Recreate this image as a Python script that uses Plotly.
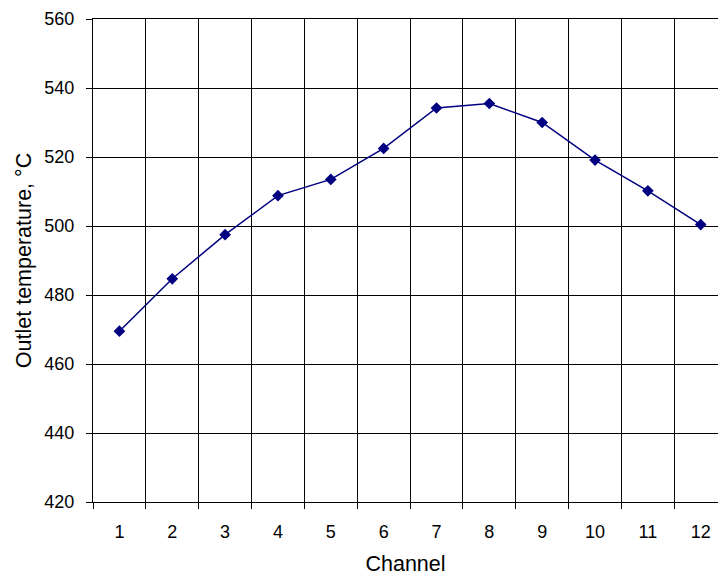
import plotly.graph_objects as go

# Outlet temperature per channel
channels = [1, 2, 3, 4, 5, 6, 7, 8, 9, 10, 11, 12]
outlet_temp = [469.5, 484.7, 497.5, 508.8, 513.5, 522.5, 534.2, 535.5, 530.0, 519.1, 510.2, 500.4]
y_ticks = [420, 440, 460, 480, 500, 520, 540, 560]
x_labels = [str(c) for c in channels]
boundaries = [c - 0.5 for c in channels] + [channels[-1] + 0.5]

FONT = "Liberation Sans, Arial, sans-serif"

fig = go.Figure()
fig.add_trace(go.Scatter(
    x=channels,
    y=outlet_temp,
    mode="lines+markers",
    line=dict(color="#000080", width=1.5),
    marker=dict(symbol="diamond", size=9, color="#000080"),
    showlegend=False,
    cliponaxis=False,
))

fig.update_layout(
    width=718,
    height=579,
    margin=dict(l=93, r=0, t=19, b=77),
    paper_bgcolor="white",
    plot_bgcolor="white",
    font=dict(family=FONT, size=18, color="black"),
    xaxis=dict(
        range=[0.5, 12.327],
        tickmode="array",
        tickvals=channels,
        ticktext=x_labels,
        ticks="",
        showgrid=False,
        zeroline=False,
        showline=True,
        linecolor="black",
        linewidth=1,
        mirror=True,
        ticklabelstandoff=13,
        tickfont=dict(size=18),
        minor=dict(
            tickmode="array",
            tickvals=boundaries,
            ticks="outside",
            ticklen=6,
            tickcolor="black",
            showgrid=True,
            gridcolor="black",
            gridwidth=1,
        ),
        title=dict(text="Channel", font=dict(size=21.5), standoff=15),
    ),
    yaxis=dict(
        range=[420, 560],
        tickmode="array",
        tickvals=y_ticks,
        ticks="outside",
        ticklen=6,
        tickcolor="black",
        showgrid=True,
        gridcolor="black",
        gridwidth=1,
        zeroline=False,
        showline=True,
        linecolor="black",
        linewidth=1,
        ticklabelstandoff=8,
        tickfont=dict(size=18),
        title=dict(text="Outlet temperature, °C", font=dict(size=21.5), standoff=6),
    ),
)

fig.write_html("out.html")
